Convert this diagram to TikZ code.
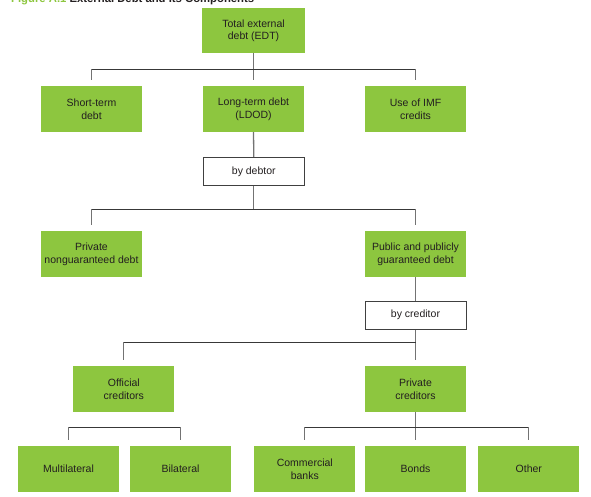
\documentclass[tikz,border=0pt]{standalone}
\usepackage{fontspec}
\setmainfont{Liberation Sans}
\usetikzlibrary{calc}
\definecolor{boxgreen}{HTML}{8DC63F}
\definecolor{txt}{HTML}{231F20}
\definecolor{titlegreen}{HTML}{8DC63F}
\tikzset{
  gbox/.style={rectangle, fill=boxgreen, minimum width=101pt, minimum height=46pt, inner sep=0pt, align=center, text=txt, font=\fontsize{10.5}{12.8}\selectfont},
  wbox/.style={rectangle, fill=white, draw=black!75, line width=0.9pt, minimum width=101pt, minimum height=28.5pt, inner sep=0pt, align=center, text=txt, font=\fontsize{10.5}{12.8}\selectfont},
  hl/.style={draw=black!78, line width=1pt},
  vl/.style={draw=black!55, line width=1.3pt},
}
\begin{document}
\begin{tikzpicture}[x=1pt,y=-1pt]
\clip (0,0) rectangle (591,497);
\useasboundingbox (0,0) rectangle (591,497);
\node[anchor=base west, font=\bfseries\fontsize{11.3}{13}\selectfont, text=txt, inner sep=0pt] (title) at (11,3) {\textcolor{titlegreen}{Figure A.1} External Debt and Its Components};
% nodes
\node[gbox, minimum width=103pt, minimum height=45pt] (total) at (253.5,30.7) {Total external\\debt (EDT)};
\node[gbox] (short) at (91.5,109) {Short-term\\debt};
\node[gbox] (long) at (253.5,109) {Long-term debt\\(LDOD)};
\node[gbox] (imf) at (415.5,109) {Use of IMF\\credits};
\node[wbox] (bydebtor) at (253.8,171.5) {by debtor};
\node[gbox] (pnd) at (91.5,254) {Private\\nonguaranteed debt};
\node[gbox] (ppg) at (415.5,254) {Public and publicly\\guaranteed debt};
\node[wbox] (bycred) at (415.5,315.2) {by creditor};
\node[gbox] (official) at (123.8,389) {Official\\creditors};
\node[gbox] (privcred) at (415.5,389) {Private\\creditors};
\node[gbox] (multi) at (68.5,469) {Multilateral};
\node[gbox] (bilat) at (180.5,469) {Bilateral};
\node[gbox] (comm) at (304.8,469) {Commercial\\banks};
\node[gbox] (bonds) at (415.5,469) {Bonds};
\node[gbox] (other) at (528.8,469) {Other};
% bus levels
\coordinate (b1) at (0,69.3);
\coordinate (b2) at (0,209.3);
\coordinate (b3) at (0,342.3);
\coordinate (b4) at (0,427);
% level 1
\draw[vl] (total.south) -- ($(long.north)+(0,-6)$);
\draw[hl] (short |- b1) -- (imf |- b1);
\draw[vl] (short |- b1) -- ($(short.north)+(0,-6)$);
\draw[vl] (imf |- b1) -- ($(imf.north)+(0,-6)$);
% level 2
\draw[vl] (long.south) -- (bydebtor.north);
\draw[vl] (bydebtor.south) -- (bydebtor |- b2);
\draw[hl] (pnd |- b2) -- (ppg |- b2);
\draw[vl] (pnd |- b2) -- ($(pnd.north)+(0,-6)$);
\draw[vl] (ppg |- b2) -- ($(ppg.north)+(0,-6)$);
% level 3
\draw[vl] (ppg.south) -- (bycred.north);
\draw[vl] (bycred.south) -- ($(privcred.north)+(0,-5.5)$);
\draw[hl] (official |- b3) -- (bycred |- b3);
\draw[vl] (official |- b3) -- ($(official.north)+(0,-5.5)$);
% level 4
\draw[hl] (multi |- b4) -- (bilat |- b4);
\draw[vl] (multi |- b4) -- ($(multi.north)+(0,-5.5)$);
\draw[vl] (bilat |- b4) -- ($(bilat.north)+(0,-5.5)$);
\draw[vl] (privcred.south) -- ($(bonds.north)+(0,-5.5)$);
\draw[hl] (comm |- b4) -- (other |- b4);
\draw[vl] (comm |- b4) -- ($(comm.north)+(0,-5.5)$);
\draw[vl] (other |- b4) -- ($(other.north)+(0,-5.5)$);
\end{tikzpicture}
\end{document}
